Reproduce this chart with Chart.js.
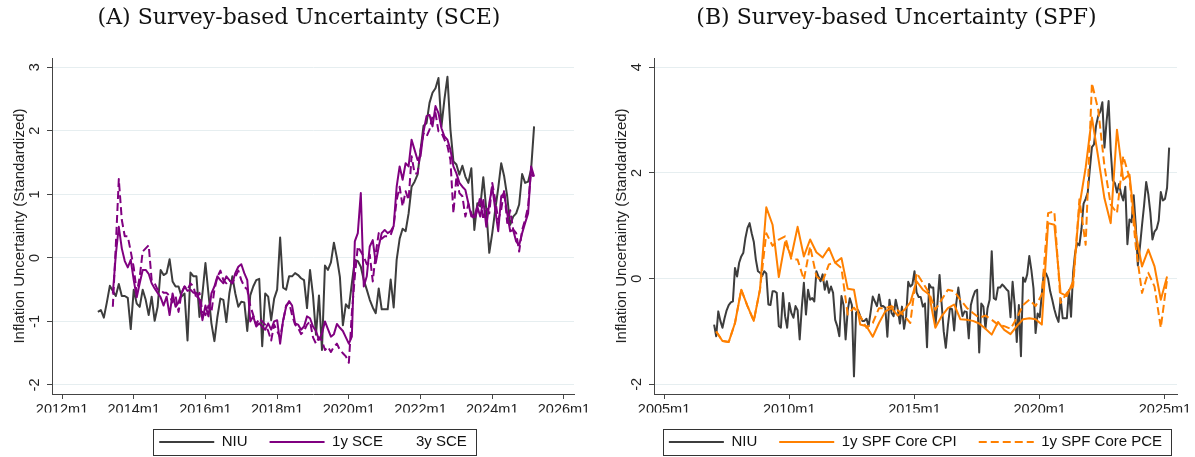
<!DOCTYPE html>
<html>
<head>
<meta charset="utf-8">
<script src="https://cdn.jsdelivr.net/npm/chart.js@4.4.1/dist/chart.umd.min.js"></script>
<style>
  body { margin: 0; background: #fff; width: 1195px; height: 457px; overflow: hidden; }
  .panel { position: absolute; top: 0; height: 457px; }
</style>
</head>
<body>
<div class="panel" style="left:0;width:598px"><canvas id="sce" width="598" height="457"></canvas></div>
<div class="panel" style="left:598px;width:597px"><canvas id="spf" width="597" height="457"></canvas></div>
<script>
// NIU, standardized over the SCE window, monthly 2013m1-2025m3
const niuA = [
  -0.85, -0.82, -0.94, -0.70, -0.44, -0.52, -0.60, -0.41, -0.60, -0.60, -0.63, -1.12,
  -0.50, -0.72, -0.77, -0.50, -0.66, -0.90, -0.61, -0.99, -0.77, -0.19, -0.27, -0.24,
  -0.02, -0.37, -0.45, -0.45, -0.61, -0.56, -1.30, -0.23, -0.29, -0.29, -0.93, -0.56,
  -0.08, -0.56, -1.03, -1.31, -0.93, -0.64, -0.66, -1.01, -0.56, -0.29, -0.56, -0.77,
  -0.69, -0.70, -1.15, -0.59, -0.45, -0.35, -0.33, -1.39, -0.56, -0.61, -0.98, -0.64,
  -0.50, 0.32, -0.47, -0.50, -0.29, -0.29, -0.24, -0.27, -0.32, -0.35, -0.79, -0.19,
  -0.59, -1.21, -0.59, -1.45, -0.12, -0.19, -0.07, 0.24, 0.00, -0.30, -1.06, -0.73,
  -0.79, -0.40, -0.03, -0.05, -0.14, -0.35, -0.50, -0.66, -0.78, -0.87, -0.48, -0.81,
  -0.81, -0.81, -0.34, -0.78, -0.03, 0.30, 0.46, 0.42, 0.70, 1.12, 1.20, 1.31,
  1.70, 2.08, 2.12, 2.44, 2.60, 2.67, 2.83, 2.07, 2.50, 2.85, 2.02, 1.52,
  1.47, 1.31, 1.45, 1.28, 1.18, 1.41, 0.44, 0.86, 0.81, 1.27, 0.76, 0.08,
  0.39, 0.76, 1.10, 1.49, 1.28, 0.97, 0.52, 0.65, 0.70, 0.84, 1.32, 1.18,
  1.20, 1.39, 2.07
];
// SCE 1-year and 3-year ahead, monthly 2013m6-2025m3
const sce1y = [
  -0.56, 0.05, 0.49, 0.15, -0.05, -0.15, -0.03,
  -0.35, -0.62, -0.40, -0.19, -0.19, -0.25, -0.40, -0.48, -0.55, -0.62, -0.75, -0.61,
  -0.90, -0.56, -0.77, -0.70, -0.56, -0.45, -0.52, -0.50, -0.55, -0.55, -0.66, -0.98,
  -0.75, -0.92, -0.56, -0.45, -0.29, -0.35, -0.40, -0.29, -0.35, -0.40, -0.24, -0.14,
  -0.10, -0.24, -0.35, -1.00, -0.92, -1.08, -1.03, -1.08, -1.13, -1.03, -1.13, -1.00,
  -0.98, -1.35, -0.98, -0.77, -0.68, -0.75, -1.03, -1.05, -1.13, -1.08, -0.92, -0.95,
  -1.08, -1.15, -1.29, -1.19, -1.00, -1.12, -1.24, -1.20, -1.04, -1.10, -1.15, -1.25,
  -1.35, -1.24, 0.26, 0.39, 1.02, -0.45, -0.29, 0.18, 0.28, -0.08, 0.18, 0.39,
  0.44, 0.39, 0.42, 0.50, 1.12, 1.44, 1.23, 1.49, 1.44, 1.86, 1.70, 1.54,
  1.60, 1.99, 2.23, 2.25, 2.07, 2.39, 2.28, 2.04, 1.91, 1.86, 1.70, 1.44,
  1.33, 1.18, 1.12, 1.07, 0.86, 0.65, 0.65, 0.81, 0.65, 0.91, 0.49, 0.86,
  1.12, 0.76, 0.42, 0.97, 1.02, 0.70, 0.42, 0.44, 0.26, 0.20, 0.39, 0.55,
  0.70, 1.44, 1.28
];
const sce3y = [
  -0.77, 0.20, 1.24, 0.60, 0.34, 0.34, 0.10,
  -0.15, -0.55, -0.30, 0.10, 0.15, 0.20, -0.35, -0.40, -0.50, -0.50, -0.55, -0.55,
  -0.60, -0.70, -0.60, -0.85, -0.55, -0.45, -0.50, -0.40, -0.45, -0.65, -0.55, -0.85,
  -0.90, -0.75, -0.85, -0.50, -0.30, -0.20, -0.35, -0.40, -0.35, -0.40, -0.30, -0.20,
  -0.35, -0.45, -0.50, -0.75, -0.90, -1.05, -0.95, -1.00, -1.05, -1.15, -1.30, -1.05,
  -1.15, -1.25, -1.00, -0.75, -0.70, -0.90, -1.05, -1.10, -1.20, -1.15, -1.05, -1.00,
  -1.25, -1.35, -1.25, -1.30, -1.45, -1.40, -1.48, -1.40, -1.35, -1.45, -1.50, -1.55,
  -1.65, -0.87, -0.29, 0.18, 0.10, 0.02, -0.10, 0.05, -0.37, 0.07, 0.39, 0.30,
  0.34, 0.34, 0.36, 0.50, 0.91, 1.12, 0.81, 1.05, 0.91, 1.60, 1.33, 1.33,
  1.70, 1.96, 1.91, 2.02, 2.23, 2.28, 1.99, 1.97, 1.86, 1.76, 1.54, 0.70,
  1.28, 1.02, 0.97, 0.65, 0.85, 0.70, 0.60, 0.75, 0.97, 0.60, 0.80, 0.70,
  1.18, 0.91, 0.60, 0.76, 1.07, 0.55, 0.75, 0.45, 0.39, 0.10, 0.44, 0.60,
  0.81, 1.39, 1.23
];
// NIU, standardized over the SPF window, monthly 2007m1-2025m3
const niuB = [
  -0.87, -1.09, -0.62, -0.80, -0.93, -0.75, -0.60, -0.50, -0.45, -0.43, 0.20, 0.04,
  0.30, 0.42, 0.49, 0.77, 0.96, 1.05, 0.86, 0.70, 0.36, 0.14, 0.11, 0.05,
  0.14, 0.10, -0.49, -0.50, -0.24, -0.24, -0.27, -0.90, -0.93, -0.27, -0.71, -0.93,
  -0.46, -0.65, -0.74, -0.52, -0.60, -1.15, -0.55, -0.08, -0.68, -0.21, -0.40, -0.37,
  -0.43, 0.14, 0.04, -0.05, 0.08, -0.21, -0.05, -0.27, -0.15, -0.27, -0.78, -0.90,
  -1.09, -0.33, -0.50, -1.15, -0.60, -0.37, -0.50, -1.85, -0.65, -0.60, -0.71, -0.80,
  -0.80, -0.76, -0.90, -0.63, -0.34, -0.43, -0.52, -0.30, -0.52, -0.52, -0.55, -1.10,
  -0.40, -0.65, -0.71, -0.40, -0.58, -0.85, -0.53, -0.95, -0.71, -0.06, -0.15, -0.11,
  0.14, -0.26, -0.35, -0.35, -0.53, -0.47, -1.30, -0.10, -0.17, -0.17, -0.89, -0.47,
  0.07, -0.47, -1.00, -1.31, -0.89, -0.56, -0.58, -0.98, -0.47, -0.17, -0.47, -0.71,
  -0.62, -0.63, -1.13, -0.50, -0.35, -0.24, -0.21, -1.40, -0.47, -0.53, -0.94, -0.56,
  -0.40, 0.52, -0.37, -0.40, -0.17, -0.17, -0.11, -0.15, -0.20, -0.24, -0.73, -0.06,
  -0.50, -1.20, -0.50, -1.47, 0.02, -0.06, 0.08, 0.43, 0.16, -0.18, -1.03, -0.66,
  -0.73, -0.29, 0.12, 0.10, 0.00, -0.24, -0.40, -0.58, -0.72, -0.82, -0.38, -0.75,
  -0.75, -0.75, -0.22, -0.72, 0.12, 0.50, 0.67, 0.63, 0.94, 1.42, 1.51, 1.63,
  2.07, 2.49, 2.54, 2.90, 3.08, 3.16, 3.34, 2.48, 2.97, 3.36, 2.43, 1.86,
  1.81, 1.63, 1.79, 1.60, 1.48, 1.74, 0.65, 1.12, 1.07, 1.58, 1.01, 0.25,
  0.60, 1.01, 1.39, 1.83, 1.60, 1.25, 0.74, 0.89, 0.94, 1.10, 1.64, 1.48,
  1.51, 1.72, 2.48
];
// SPF 1-year core CPI / core PCE, quarterly 2007q1-2025q1 (survey month)
const spfCpi = [
  -1.00, -1.18, -1.20, -0.84, -0.21, -0.52, -0.80, -0.20,
  1.35, 1.02, 0.03, 0.69, 0.42, 0.98, 0.42, 0.74,
  0.50, 0.40, 0.58, 0.30, 0.39, -0.19, -0.21, -0.87,
  -0.90, -1.10, -0.84, -0.62, -0.56, -0.70, -0.60, -0.45,
  -0.05, -0.21, -0.30, -0.93, -0.71, -0.56, -0.49, -0.77,
  -0.78, -0.80, -0.85, -0.95, -1.06, -0.82, -0.97, -1.05,
  -0.90, -0.77, -0.75, -0.77, -0.87, 1.05, 1.02, -0.27,
  -0.33, -0.05, 1.37, 2.10, 3.05, 2.30, 1.52, 1.05,
  2.82, 1.87, 1.97, 0.86, 0.23, 0.55, 0.23, -0.40,
  0.04
];
const spfPce = [
  -1.00, -1.18, -1.20, -0.84, -0.21, -0.52, -0.80, -0.20,
  0.86, 0.62, 0.74, 0.80, 0.36, 0.36, -0.02, 0.61,
  0.04, -0.05, 0.27, 0.30, 0.20, -0.68, -0.55, -0.71,
  -0.93, -0.84, -0.56, -0.56, -0.52, -0.60, -0.70, -0.84,
  0.11, -0.08, -0.27, -0.59, -0.40, -0.21, -0.24, -0.40,
  -0.55, -0.65, -0.74, -0.70, -0.78, -0.87, -0.90, -0.95,
  -0.75, -0.50, -0.40, -0.52, -0.30, 1.24, 1.27, -0.46,
  -0.27, -0.15, 1.50, 0.64, 3.70, 3.20, 2.13, 1.40,
  1.24, 2.32, 1.91, 0.61, -0.27, 0.11, -0.15, -0.93,
  -0.02
];
const ticksA = ['2012m1', '2014m1', '2016m1', '2018m1', '2020m1', '2022m1', '2024m1', '2026m1'];
const ticksB = ['2005m1', '2010m1', '2015m1', '2020m1', '2025m1'];

const tm = s => { const p = s.split('m'); return +p[0] + (p[1] - 1) / 12; };
const series = (vals, start, step) => vals.map((v, i) => ({ x: tm(start) + i * step / 12, y: v }));

Chart.defaults.font.family = '"Liberation Sans", Arial, sans-serif';
Chart.defaults.color = '#222';

const axisCol = '#444';
const gridCol = '#e6eef0';
const NIU_COL = '#3d3d3d';
const KEY_GAP = 33;   // space before a legend entry drawn without a key

// centre legend under the plot region and title over the canvas,
// add key-less entries after the library legend and box it all
const legendFrame = {
  id: 'legendFrame',
  extras(chart) {
    return chart.data.datasets.filter(d => d.noKey).map(d => d.label);
  },
  extraWidth(chart) {
    const ctx = chart.ctx;
    ctx.save();
    ctx.font = Chart.helpers.toFont(chart.legend.options.labels.font).string;
    const w = this.extras(chart).reduce((s, t) => s + KEY_GAP + ctx.measureText(t).width, 0);
    ctx.restore();
    return w;
  },
  afterLayout(chart) {
    const lg = chart.legend, ca = chart.chartArea;
    const pad = lg.options.labels.padding, lw = lg.lineWidths[0];
    const total = lw - pad + this.extraWidth(chart);
    const want = (ca.left + ca.right) / 2 - total / 2;
    const dx = want - (lg.left + pad + lg.right - lw) / 2;
    lg.left += dx; lg.right += dx;
    const t = chart.titleBlock;
    const tx = chart.width / 2 - (t.left + t.right) / 2;
    t.left += tx; t.right += tx;
  },
  afterDraw(chart) {
    const lg = chart.legend, ctx = chart.ctx;
    const opts = lg.options.labels;
    const pad = opts.padding, lw = lg.lineWidths[0];
    const x0 = (lg.left + pad + lg.right - lw) / 2;
    let x1 = x0 + lw - pad;
    const cy = lg.top + pad + opts.font.size / 2;
    ctx.save();
    ctx.font = Chart.helpers.toFont(opts.font).string;
    ctx.fillStyle = opts.color;
    ctx.textAlign = 'left';
    ctx.textBaseline = 'middle';
    this.extras(chart).forEach(t => {
      x1 += KEY_GAP;
      ctx.fillText(t, x1, cy);
      x1 += ctx.measureText(t).width;
    });
    ctx.strokeStyle = '#333';
    ctx.lineWidth = 1;
    ctx.strokeRect(Math.round(x0 - 6) + 0.5, Math.round(cy - 13) + 0.5, Math.round(x1 - x0 + 15), 26);
    ctx.restore();
  }
};

function line(label, data, color, order, dash, noKey) {
  return {
    label, data, order, noKey: !!noKey,
    borderColor: color, backgroundColor: color,
    borderWidth: 2, borderDash: dash || [],
    borderJoinStyle: 'round',
    pointRadius: 0, tension: 0, fill: false
  };
}

function legendLabels(chart) {
  return Chart.defaults.plugins.legend.labels.generateLabels(chart).map(it => {
    const ds = chart.data.datasets[it.datasetIndex];
    it.lineDash = ds.borderDash;
    it.lineWidth = ds.borderWidth;
    it.strokeStyle = ds.borderColor;
    return it;
  });
}

function makeChart(id, cfg) {
  return new Chart(document.getElementById(id), {
    type: 'line',
    data: { datasets: cfg.datasets },
    plugins: [legendFrame],
    options: {
      responsive: false,
      animation: false,
      events: [],
      layout: { padding: cfg.padding },
      scales: {
        x: {
          type: 'linear', min: cfg.xMin, max: cfg.xMax,
          afterBuildTicks: s => { s.ticks = cfg.ticks.map(t => ({ value: tm(t) })); },
          afterFit: s => { s.height = 18.5; },
          ticks: {
            autoSkip: false, maxRotation: 0, padding: 2,
            font: { size: 14.5 }, color: '#222',
            callback: (v, i) => cfg.ticks[i]
          },
          grid: { drawOnChartArea: false, tickLength: 5, tickColor: axisCol },
          border: { color: axisCol, width: 1 }
        },
        y: {
          min: cfg.yMin, max: cfg.yMax,
          afterFit: s => { s.width = 52; },
          ticks: {
            stepSize: cfg.yStep, includeBounds: false,
            minRotation: 90, maxRotation: 90, crossAlign: 'center', padding: 6,
            font: { size: 14.5 }, color: '#222'
          },
          grid: { color: gridCol, lineWidth: 1, tickLength: 5, tickColor: axisCol },
          border: { color: axisCol, width: 1 },
          title: {
            display: true, text: 'Inflation Uncertainty (Standardized)',
            font: { size: 15 }, color: '#222', padding: { top: 11, bottom: 0 }
          }
        }
      },
      plugins: {
        title: {
          display: true, text: cfg.title,
          font: { family: '"DejaVu Serif", serif', size: 22, weight: 'normal' },
          color: '#111', padding: { top: 5, bottom: 26.6 }
        },
        legend: {
          position: 'bottom', maxHeight: 44.5,
          labels: {
            usePointStyle: true, pointStyle: 'line', pointStyleWidth: 55,
            padding: 22, font: { size: 15 }, color: '#111',
            generateLabels: legendLabels,
            filter: (item, data) => !data.datasets[item.datasetIndex].noKey,
            sort: (a, b) => a.datasetIndex - b.datasetIndex
          }
        },
        tooltip: { enabled: false }
      }
    }
  });
}

makeChart('sce', {
  title: '(A) Survey-based Uncertainty (SCE)',
  padding: { left: 0, right: 24, top: 0, bottom: 0 },
  xMin: 2011.72, xMax: 2026.28, ticks: ticksA,
  yMin: -2.142, yMax: 3.146, yStep: 1,
  datasets: [
    line('NIU', series(niuA, '2013m1', 1), NIU_COL, 3),
    line('1y SCE', series(sce1y, '2013m6', 1), '#800080', 2),
    line('3y SCE', series(sce3y, '2013m6', 1), '#800080', 1, [8, 4], true)
  ]
});

makeChart('spf', {
  title: '(B) Survey-based Uncertainty (SPF)',
  padding: { left: 4, right: 18, top: 0, bottom: 0 },
  xMin: 2004.6, xMax: 2025.48, ticks: ticksB,
  yMin: -2.184, yMax: 4.176, yStep: 2,
  datasets: [
    line('NIU', series(niuB, '2007m1', 1), NIU_COL, 3),
    line('1y SPF Core CPI', series(spfCpi, '2007m2', 3), '#ff8000', 2),
    line('1y SPF Core PCE', series(spfPce, '2007m2', 3), '#ff8000', 1, [8, 4])
  ]
});
</script>
</body>
</html>
